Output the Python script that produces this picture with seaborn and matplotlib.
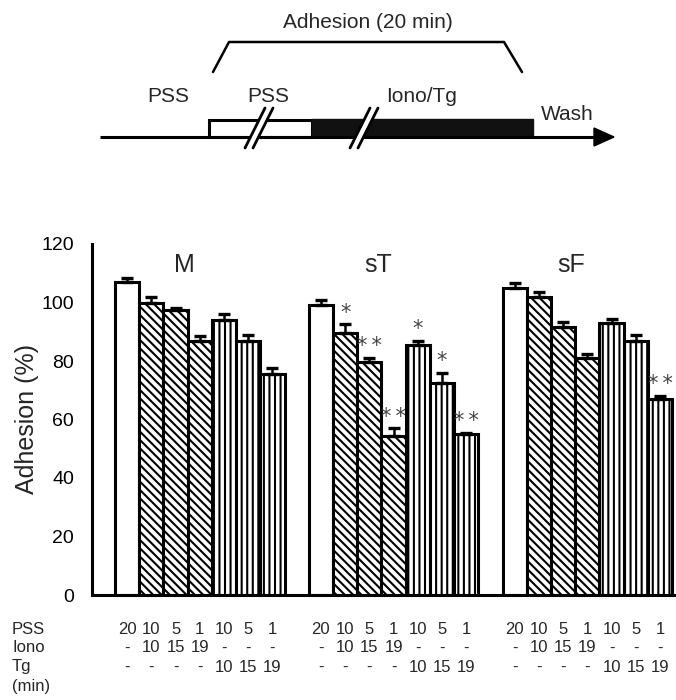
import numpy as np
import pandas as pd
import matplotlib
matplotlib.use('Agg')
import matplotlib.pyplot as plt
import matplotlib.transforms as mtransforms
from matplotlib.patches import Rectangle, Polygon
import seaborn as sns

# --- Data ---
GROUPS = ['M', 'sT', 'sF']
PSS_MIN = ['20', '10', '5', '1', '10', '5', '1']
IONO_MIN = ['-', '10', '15', '19', '-', '-', '-']
TG_MIN = ['-', '-', '-', '-', '10', '15', '19']

ADHESION_M = [107, 100, 97.5, 87, 94, 87, 75.5]
ADHESION_ST = [99, 89.5, 79.5, 54.5, 85.5, 72.5, 55]
ADHESION_SF = [105, 102, 91.5, 81, 93, 87, 67]

SEM_M = [1.5, 2, 0.5, 1.5, 2, 2, 2]
SEM_ST = [2, 3, 1.5, 2.5, 1.5, 3.5, 0.5]
SEM_SF = [1.5, 1.5, 2, 1.5, 1.5, 2, 1]

STARS_M = ['', '', '', '', '', '', '']
STARS_ST = ['', '*', '**', '**', '*', '*', '**']
STARS_SF = ['', '', '', '', '', '', '**']

HATCHES = ['', '\\\\\\\\', '\\\\\\\\', '\\\\\\\\', '|||', '|||', '|||']


def build_frame():
    values = [ADHESION_M, ADHESION_ST, ADHESION_SF]
    errors = [SEM_M, SEM_ST, SEM_SF]
    stars = [STARS_M, STARS_ST, STARS_SF]
    rows = []
    for g, name in enumerate(GROUPS):
        for i in range(len(PSS_MIN)):
            rows.append(dict(group=name, slot=i, pos=g * 8 + i,
                             adhesion=values[g][i], sem=errors[g][i],
                             star=stars[g][i], hatch=HATCHES[i]))
    return pd.DataFrame(rows)


def draw_protocol(ov):
    """Schematic of the adhesion protocol above the bar chart."""
    ov.plot([100, 596], [137, 137], color='black', lw=2.2, solid_capstyle='butt')
    ov.add_patch(Polygon([(594, 128), (614, 137), (594, 146)], closed=True,
                         facecolor='black', edgecolor='black'))
    ov.add_patch(Rectangle((209, 120), 103, 17, facecolor='white',
                           edgecolor='black', lw=2.2))
    ov.add_patch(Rectangle((312, 119), 221, 18, facecolor='#111111',
                           edgecolor='#111111', lw=1))
    for x0 in (245, 350):
        ov.add_patch(Polygon([(x0 + 1, 148), (x0 + 21, 108), (x0 + 27, 108), (x0 + 7, 148)],
                             closed=True, facecolor='white', edgecolor='none', zorder=3))
        ov.plot([x0, x0 + 20], [148, 108], color='black', lw=2, zorder=4)
        ov.plot([x0 + 8, x0 + 28], [148, 108], color='black', lw=2, zorder=4)
    ov.plot([213, 229, 504, 522], [72, 42, 42, 72], color='black', lw=1.8)
    ov.text(368, 22, 'Adhesion (20 min)', ha='center', va='center', fontsize=15)
    ov.text(168, 96, 'PSS', ha='center', va='center', fontsize=15)
    ov.text(268, 96, 'PSS', ha='center', va='center', fontsize=15)
    ov.text(422, 97, 'Iono/Tg', ha='center', va='center', fontsize=15)
    ov.text(567, 114, 'Wash', ha='center', va='center', fontsize=15)


def create_chart():
    df = build_frame()

    sns.set_theme(style='white')
    plt.rcParams['font.family'] = ['Liberation Sans', 'DejaVu Sans']
    plt.rcParams['hatch.linewidth'] = 1.5

    fig = plt.figure(figsize=(6.76, 7.0), dpi=100)
    ax = fig.add_axes([92 / 676, 105 / 700, 584 / 676, 351 / 700])

    sns.barplot(data=df, x='pos', y='adhesion', native_scale=True, width=1,
                color='white', saturation=1, edgecolor='black', linewidth=2.2,
                errorbar=None, ax=ax, zorder=2)
    for patch, h in zip(ax.patches, df['hatch']):
        patch.set_hatch(h)

    ax.errorbar(df['pos'], df['adhesion'], yerr=[np.zeros(len(df)), df['sem']],
                fmt='none', ecolor='black', elinewidth=1.8, capsize=4.5,
                capthick=2.4, zorder=3)

    # significance marks, stars spread apart a little
    for _, row in df.iterrows():
        if row['star']:
            mark = '\u2009'.join(row['star'])
            ax.text(row['pos'], row['adhesion'] + row['sem'] + 0.6, mark,
                    ha='center', va='bottom', fontsize=15, color='#444444',
                    family='DejaVu Sans')

    for g, name in enumerate(GROUPS):
        ax.text(g * 8 + 2.35, 112.8, name, ha='center', va='center', fontsize=18)

    ax.set_xlim(-1.45, 22.66)
    ax.set_ylim(0, 120)
    ax.set_yticks(range(0, 121, 20))
    ax.set_xticks([])
    ax.set_xlabel('')
    ax.set_ylabel('Adhesion (%)', fontsize=18, labelpad=2)
    ax.tick_params(axis='y', direction='in', length=5, width=2,
                   labelsize=14, pad=13, colors='black')
    sns.despine(ax=ax)
    for side in ('left', 'bottom'):
        ax.spines[side].set_linewidth(2.2)
        ax.spines[side].set_color('black')

    # overlay in pixel coordinates for the schematic and condition table
    ov = fig.add_axes([0, 0, 1, 1])
    ov.patch.set_alpha(0)
    ov.axis('off')
    ov.set_xlim(0, 676)
    ov.set_ylim(700, 0)
    draw_protocol(ov)

    trans = mtransforms.blended_transform_factory(ax.transData, ov.transData)
    table_rows = [('PSS', PSS_MIN, 630), ('Iono', IONO_MIN, 648), ('Tg', TG_MIN, 667)]
    for label, vals, y in table_rows:
        ov.text(12, y, label, ha='left', va='center', fontsize=12)
        for g in range(len(GROUPS)):
            for i, v in enumerate(vals):
                ov.text(g * 8 + i, y, v, transform=trans, ha='center',
                        va='center', fontsize=12)
    ov.text(12, 686, '(min)', ha='left', va='center', fontsize=12)

    fig.savefig('out.png', dpi=100)
    plt.close(fig)


if __name__ == '__main__':
    create_chart()
